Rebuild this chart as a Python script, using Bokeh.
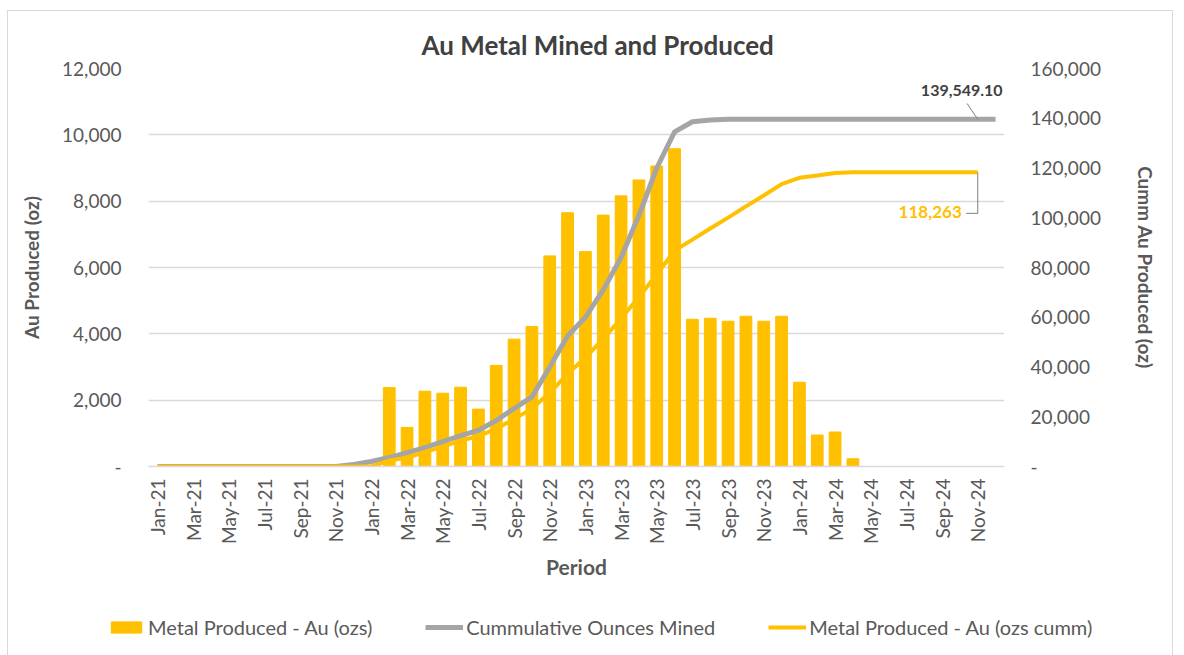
import numpy as np
from bokeh.plotting import figure
from bokeh.layouts import column
from bokeh.models import (Range1d, LinearAxis, FixedTicker, NumeralTickFormatter,
                          Legend, LegendItem, Label, ColumnDataSource)
from bokeh.embed import file_html
from bokeh.resources import INLINE

# Monthly periods, Jan-21 .. Dec-24
periods = [
    "Jan-21", "Feb-21", "Mar-21", "Apr-21", "May-21", "Jun-21", "Jul-21", "Aug-21",
    "Sep-21", "Oct-21", "Nov-21", "Dec-21",
    "Jan-22", "Feb-22", "Mar-22", "Apr-22", "May-22", "Jun-22", "Jul-22", "Aug-22",
    "Sep-22", "Oct-22", "Nov-22", "Dec-22",
    "Jan-23", "Feb-23", "Mar-23", "Apr-23", "May-23", "Jun-23", "Jul-23", "Aug-23",
    "Sep-23", "Oct-23", "Nov-23", "Dec-23",
    "Jan-24", "Feb-24", "Mar-24", "Apr-24", "May-24", "Jun-24", "Jul-24", "Aug-24",
    "Sep-24", "Oct-24", "Nov-24", "Dec-24",
]

# Monthly gold produced (oz)
metal_produced = [
    0, 0, 0, 0, 0, 0, 0, 0, 0, 0, 0, 0,
    0, 2380, 1180, 2270, 2210, 2390, 1730, 3050, 3840, 4220, 6350, 7650,
    6480, 7580, 8160, 8640, 9060, 9580, 4440, 4470, 4380, 4530, 4380, 4530,
    2540, 950, 1040, 233, 0, 0, 0, 0, 0, 0, 0, 0,
]

# Cumulative ounces mined (oz)
ounces_mined = [
    0, 0, 0, 0, 0, 0, 0, 0, 0, 0, 0, 800,
    2000, 3600, 5600, 7600, 10000, 12400, 14500, 18500, 23300, 28000, 40000, 52500,
    60000, 71000, 84000, 101000, 120000, 134500, 138600, 139300,
    139549.10, 139549.10, 139549.10, 139549.10,
    139549.10, 139549.10, 139549.10, 139549.10, 139549.10, 139549.10, 139549.10, 139549.10,
    139549.10, 139549.10, 139549.10, 139549.10,
]

series_names = ["Metal Produced - Au (ozs)", "Cummulative Ounces Mined",
                "Metal Produced - Au (ozs cumm)"]

GOLD = "#FFC000"
GREY = "#A5A5A5"
TXT = "#595959"
FONT = "Lato"

idx = np.arange(len(periods))
produced_cumm = np.cumsum(metal_produced)
last_prod = 46  # cumulative production series runs to Nov-24

p = figure(
    frame_width=856, frame_height=398,
    min_border_left=140, min_border_right=168, min_border_top=57, min_border_bottom=124,
    x_range=Range1d(-0.5, len(periods) - 0.5),
    y_range=Range1d(0, 12000),
    output_backend="svg", toolbar_location=None,
    title="Au Metal Mined  and Produced",
)
p.extra_y_ranges = {"cumm": Range1d(0, 160000)}

p.title.align = "left"
p.title.offset = 273
p.title.text_font = FONT
p.title.text_font_size = "26px"
p.title.text_font_style = "bold"
p.title.text_color = "#404040"
p.title.standoff = 15

p.outline_line_color = None
p.background_fill_color = "white"
p.border_fill_color = "white"
p.xgrid.grid_line_color = None
p.ygrid.grid_line_color = "#D9D9D9"
p.ygrid.grid_line_width = 1.5
p.ygrid.ticker = FixedTicker(ticks=list(range(0, 12001, 2000)))

# Bottom axis: month labels every other period
xa = p.xaxis[0]
xa.ticker = FixedTicker(ticks=list(range(0, len(periods), 2)))
xa.major_label_overrides = {i: periods[i] for i in range(0, len(periods), 2)}
xa.major_label_orientation = np.pi / 2
xa.axis_label = "Period"

# Left axis
ya = p.yaxis[0]
ya.ticker = FixedTicker(ticks=list(range(0, 12001, 2000)))
ya.formatter = NumeralTickFormatter(format="0,0")
ya.major_label_overrides = {0: "-"}
ya.axis_label = "Au Produced (oz)"

# Right axis for cumulative ounces
ra = LinearAxis(y_range_name="cumm", axis_label="Cumm Au Produced (oz)")
ra.ticker = FixedTicker(ticks=list(range(0, 160001, 20000)))
ra.formatter = NumeralTickFormatter(format="0,0")
ra.major_label_overrides = {0: "-"}
p.add_layout(ra, "right")

for ax in (xa, ya, ra):
    ax.major_tick_line_color = None
    ax.minor_tick_line_color = None
    ax.major_tick_out = 0
    ax.major_label_text_font = FONT
    ax.major_label_text_font_size = "19px"
    ax.major_label_text_color = TXT
    ax.axis_label_text_font = FONT
    ax.axis_label_text_font_size = "19px"
    ax.axis_label_text_font_style = "bold"
    ax.axis_label_text_color = TXT
xa.axis_label_text_font_size = "21px"
ya.axis_line_color = None
ra.axis_line_color = None
xa.axis_line_color = "#D9D9D9"
xa.axis_line_width = 1.5
xa.major_label_standoff = 12
xa.axis_label_standoff = 7
ya.major_label_standoff = 27
ya.axis_label_standoff = 16
ra.major_label_standoff = 26
ra.axis_label_standoff = 30

src = ColumnDataSource(dict(x=idx, prod=metal_produced, mined=ounces_mined))
p.vbar(x="x", top="prod", width=0.66, color=GOLD, source=src)
p.line(x="x", y="mined", line_color=GREY, line_width=5, y_range_name="cumm", source=src)
p.line(x=idx[:last_prod + 1], y=produced_cumm[:last_prod + 1], line_color=GOLD,
       line_width=4, y_range_name="cumm")

# End-value callouts
end_mined = ounces_mined[-1]
end_prod = float(produced_cumm[last_prod])
p.line(x=[last_prod - 0.6, last_prod], y=[end_mined + 6400, end_mined],
       line_color="#7F7F7F", line_width=1, y_range_name="cumm")
p.add_layout(Label(x=last_prod, y=end_mined, y_range_name="cumm",
                   text=f"{end_mined:,.2f}", x_offset=-16, y_offset=29,
                   text_align="center", text_baseline="middle",
                   text_font=FONT, text_font_size="16px", text_font_style="bold",
                   text_color="#404040"))
p.line(x=[last_prod, last_prod, last_prod - 0.65],
       y=[end_prod, end_prod - 16500, end_prod - 16500],
       line_color="#7F7F7F", line_width=1, y_range_name="cumm")
p.add_layout(Label(x=last_prod, y=end_prod, y_range_name="cumm",
                   text=f"{end_prod:,.0f}", x_offset=-16, y_offset=-40,
                   text_align="right", text_baseline="middle",
                   text_font=FONT, text_font_size="17px", text_font_style="bold",
                   text_color=GOLD))

# Legend strip under the chart; its swatch renderers sit outside the visible range
lg = figure(frame_width=1164, frame_height=65, min_border=0,
            x_range=Range1d(0, 1), y_range=Range1d(0, 1),
            output_backend="svg", toolbar_location=None)
lg.axis.visible = False
lg.grid.grid_line_color = None
lg.outline_line_color = None
sw_bar = lg.vbar(x=[-10], top=[-5], width=0.66, color=GOLD)
sw_mined = lg.line(x=[-10, -9], y=[-5, -5], line_color=GREY, line_width=5)
sw_cumm = lg.line(x=[-10, -9], y=[-5, -5], line_color=GOLD, line_width=4)
legend = Legend(items=[
    LegendItem(label=series_names[0], renderers=[sw_bar]),
    LegendItem(label=series_names[1], renderers=[sw_mined]),
    LegendItem(label=series_names[2], renderers=[sw_cumm]),
], orientation="horizontal", location=(99, 16))
legend.border_line_color = None
legend.background_fill_alpha = 0
legend.padding = 0
legend.margin = 0
legend.spacing = 53
legend.glyph_width = 38
legend.glyph_height = 14
legend.label_standoff = 3
legend.label_text_font = FONT
legend.label_text_font_size = "20px"
legend.label_text_color = TXT
lg.add_layout(legend, "center")

# Chart-area frame (thin light border) around both parts
layout = column(p, lg, spacing=0)
layout.margin = (10, 0, 0, 7)
layout.styles = {"border-top": "1px solid #D9D9D9", "border-left": "1px solid #D9D9D9",
                 "border-right": "1px solid #D9D9D9"}

open("out.html", "w").write(file_html(layout, INLINE))
